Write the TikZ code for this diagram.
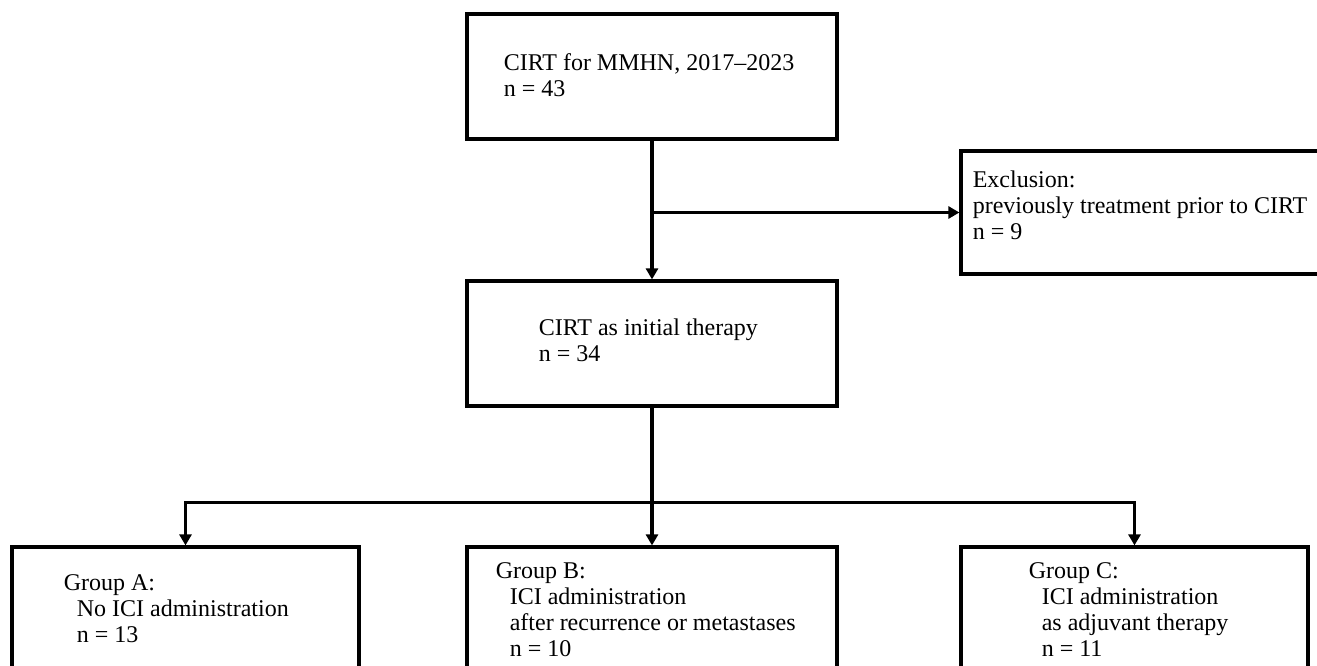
\documentclass[tikz,border=0pt]{standalone}
\usepackage{fontspec}
\setmainfont{Liberation Serif}
\usetikzlibrary{arrows.meta,positioning,calc}

\begin{document}
\begin{tikzpicture}[
  x=0.5pt, y=-0.5pt,
  >={Triangle[length=5.5pt,width=6pt]},
  font=\fontsize{12}{13}\selectfont,
  box/.style={draw=black, line width=1.6pt, fill=white, inner sep=0pt},
  widebox/.style={box, minimum width=185pt, minimum height=62.5pt},
  groupbox/.style={box, minimum width=173.5pt, minimum height=66.5pt},
  txt/.style={align=left, inner sep=0pt, anchor=base west},
  link/.style={line width=1.6pt, black},
  arr/.style={link, ->}
]

% Rahmen: 1 Einheit = 1 Pixel der Vorlage
\useasboundingbox (0,0) rectangle (1317,665);
\clip (0,0) rectangle (1317,665);
\fill[white] (0,0) rectangle (1317,665);

% Kohorte und Ausschluss (Text: Grundlinie der letzten Zeile)
\node[widebox] (cohort) at (652,76.5) {};
\node[txt] (cohorttxt) at ($(cohort.north west)+(38,84)$) {CIRT for MMHN, 2017--2023\\n = 43};

\node[box, minimum width=189.5pt, minimum height=61.5pt] (excl) at (1150.5,212.5) {};
\node[txt] (excltxt) at ($(excl.north west)+(13,90)$) {Exclusion:\\previously treatment prior to CIRT\\n = 9};

\node[widebox] (initial) at (652,343.5) {};
\node[txt] (initialtxt) at ($(initial.north west)+(73,82)$) {CIRT as initial therapy\\n = 34};

% Gruppen A, B, C
\node[groupbox] (grpA) at (185.5,613.5) {};
\node[txt] (grpAtxt) at ($(grpA.north west)+(53,97)$) {Group A:\\\hspace*{6.5pt}No ICI administration\\\hspace*{6.5pt}n = 13};

\node[widebox, minimum height=66.5pt] (grpB) at (652,613.5) {};
\node[txt] (grpBtxt) at ($(grpB.north west)+(30,111)$) {Group B:\\\hspace*{7pt}ICI administration\\\hspace*{7pt}after recurrence or metastases\\\hspace*{7pt}n = 10};

\node[groupbox] (grpC) at (1134.5,613.5) {};
\node[txt] (grpCtxt) at ($(grpC.north west)+(69,111)$) {Group C:\\\hspace*{6.5pt}ICI administration\\\hspace*{6.5pt}as adjuvant therapy\\\hspace*{6.5pt}n = 11};

% Pfeile
\draw[arr] (cohort.south) -- (initial.north);
\draw[arr] (cohort.south |- excl.west) -- (excl.west);

\coordinate (fork) at ($(initial.south)+(0,95)$);
\draw[arr] (initial.south) -- (grpB.north);
\draw[arr] (fork) -| (grpA.north);
\draw[arr] (fork) -| (grpC.north);

\end{tikzpicture}
\end{document}
